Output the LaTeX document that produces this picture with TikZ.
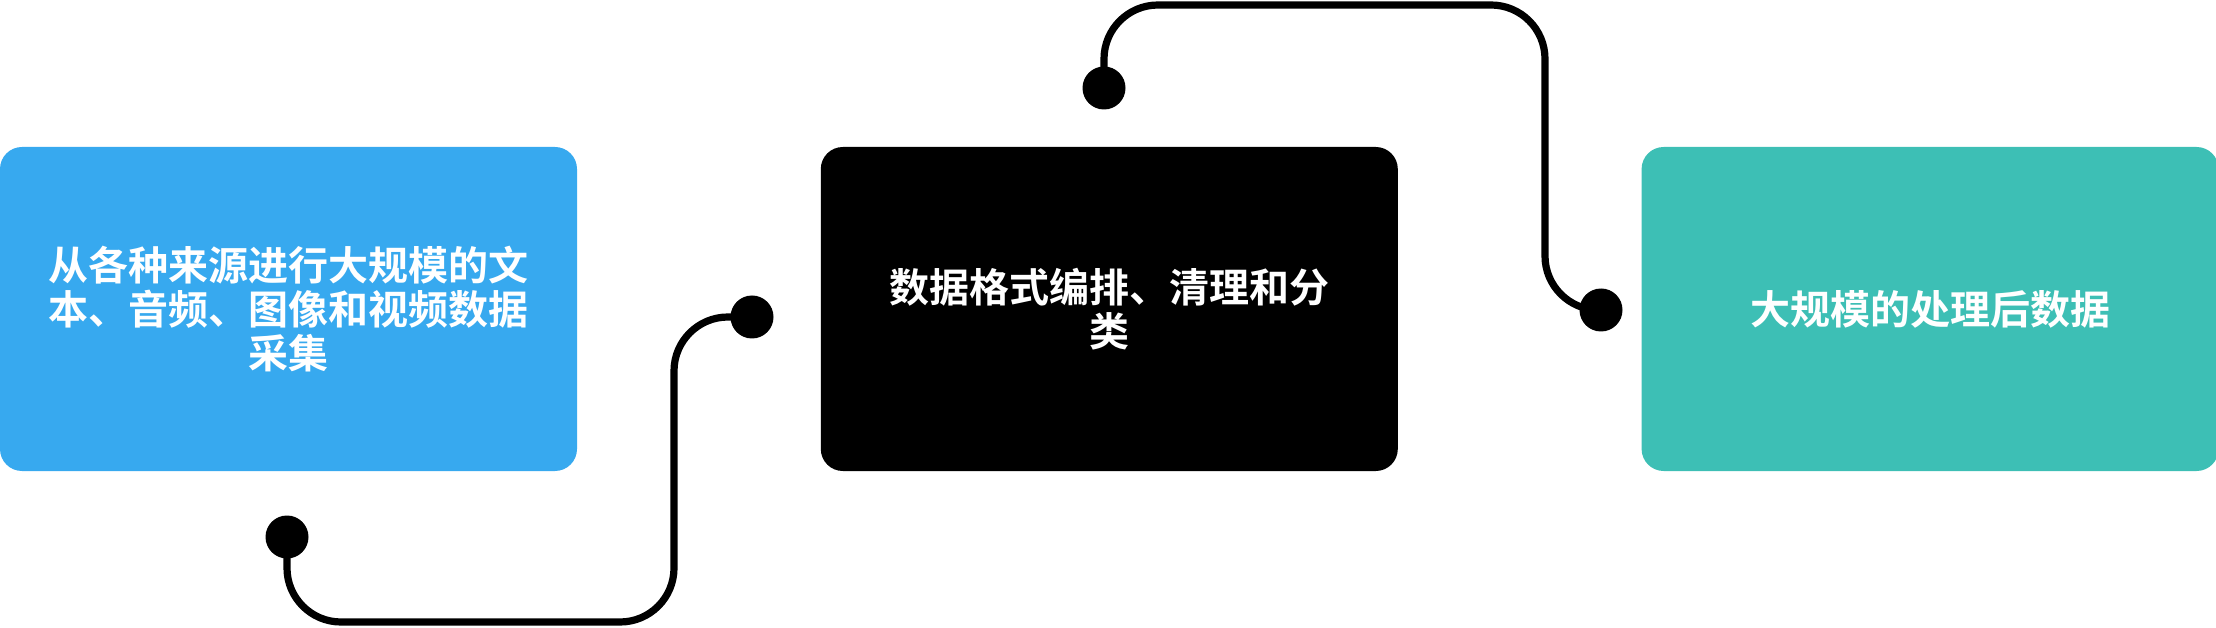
\documentclass[tikz,border=0pt]{standalone}
\usepackage{fontspec}
\usepackage{xcolor}
\usetikzlibrary{positioning, calc}
\newfontfamily\cjk{Noto Sans CJK SC}[BoldFont={Noto Sans CJK SC Bold}]
\definecolor{collectblue}{RGB}{55,169,239}
\definecolor{resultteal}{RGB}{61,191,181}
\tikzset{
    stepbox/.style={rounded corners=11pt, minimum width=288.5pt, minimum height=162pt, inner sep=0pt,
        align=center, text=white, font=\cjk\bfseries\fontsize{20}{22}\selectfont},
    dot/.style={circle, fill=black, minimum size=21.5pt, inner sep=0pt},
    wire/.style={line width=3.6pt, rounded corners=27pt}
}
\begin{document}
\begin{tikzpicture}[x=0.5pt, y=0.5pt]
                                \useasboundingbox (0, 0) rectangle (2216, 627);
                                \node[stepbox, fill=collectblue] (collect) at (288.5, 318)
                                {从各种来源进行大规模的文\\本、音频、图像和视频数据\\采集};
                                \node[stepbox, fill=black, right=121.5pt of collect] (clean)
                                {数据格式编排、清理和分\\类};
                                \node[stepbox, fill=resultteal, right=121.5pt of clean] (result)
                                {大规模的处理后数据};

                                \node[dot] (dotA) at (287, 90) {};
                                \node[dot] (dotB) at (752, 310) {};
                                \node[dot] (dotC) at (1104, 539) {};
                                \node[dot] (dotD) at (1601, 317) {};

                                \draw[wire]
                                (dotA.center) |- (674, 5) |- (dotB.center);
                                \draw[wire]
                                (dotC.center) |- (1545, 622) |- (dotD.center);
                            \end{tikzpicture}
\end{document}
